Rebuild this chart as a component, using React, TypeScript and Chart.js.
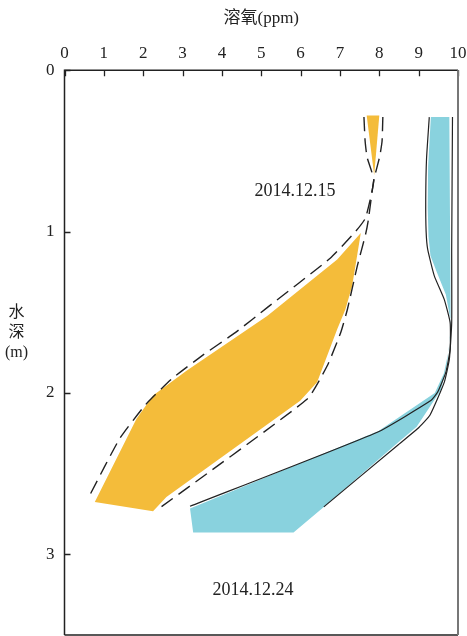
import React, { useEffect, useRef } from 'react';
import { Chart, registerables } from 'chart.js';

Chart.register(...registerables);

const FONT = "'Liberation Serif', 'Times New Roman', 'Noto Sans CJK SC', serif";
const INK = '#222';
const ORANGE = '#F4BC3A';
const BLUE = '#89D2DE';

// Axis ticks
const xTickValues = [0, 1, 2, 3, 4, 5, 6, 7, 8, 9, 10];
const yTickValues = [0, 1, 2, 3];

// Titles and labels
const xTitle = '溶氧(ppm)';
const yTitleLines = ['水', '深', '(m)'];
const dateLabels = ['2014.12.15', '2014.12.24'];
const dateLabelDO = [5.86, 4.79];
const dateLabelDepth = [0.75, 3.22];

// 2014.12.15 (orange) range — small top wedge
const orangeTopDO = [7.68, 8.0, 7.87];
const orangeTopDepth = [0.28, 0.28, 0.65];

// 2014.12.15 (orange) range — main body (closed outline)
const orangeDO = [7.53, 6.93, 5.15, 3.10, 2.25, 1.83, 0.77, 2.25, 2.59, 5.99, 6.42, 6.93, 7.14, 7.31, 7.53];
const orangeDepth = [1.008, 1.173, 1.523, 1.862, 2.016, 2.16, 2.675, 2.733, 2.644, 2.048, 1.934, 1.605, 1.481, 1.337, 1.008];

// 2014.12.15 dashed envelopes
const dashLeftDO = [7.61, 7.64, 7.69, 7.86, 7.65, 7.40, 6.76, 5.15, 4.34, 3.49, 2.72, 2.04, 1.40, 0.64];
const dashLeftDepth = [0.29, 0.44, 0.54, 0.68, 0.915, 0.998, 1.163, 1.471, 1.626, 1.77, 1.914, 2.078, 2.284, 2.634];
const dashRightDO = [8.09, 8.07, 8.01, 7.86, 7.72, 7.65, 7.44, 7.19, 7.02, 6.68, 6.17, 2.34];
const dashRightDepth = [0.29, 0.44, 0.535, 0.68, 0.93, 1.018, 1.214, 1.481, 1.625, 1.83, 2.037, 2.727];

// 2014.12.24 (blue) range (closed outline)
const blueDO = [9.31, 9.24, 9.23, 9.25, 9.30, 9.46, 9.69, 9.82, 9.77, 9.64, 9.41, 7.98, 3.19, 3.27, 5.82, 6.59, 8.44, 8.95, 9.57, 9.72, 9.81, 9.82, 9.80, 9.78];
const blueDepth = [0.29, 0.6, 0.85, 1.03, 1.15, 1.25, 1.39, 1.56, 1.73, 1.88, 2.0, 2.235, 2.716, 2.864, 2.864, 2.706, 2.315, 2.21, 1.98, 1.82, 1.63, 1.56, 1.42, 0.29];

// 2014.12.24 solid envelopes
const blueLeftDO = [9.27, 9.20, 9.18, 9.19, 9.23, 9.40, 9.65, 9.80, 9.80, 9.69, 9.48, 9.31, 7.95, 3.19];
const blueLeftDepth = [0.29, 0.55, 0.80, 1.0, 1.11, 1.276, 1.42, 1.564, 1.728, 1.872, 1.996, 2.047, 2.243, 2.702];
const blueRightDO = [9.86, 9.84, 9.84, 9.78, 9.65, 9.29, 8.97, 8.46, 6.59];
const blueRightDepth = [0.29, 1.11, 1.564, 1.79, 1.934, 2.136, 2.222, 2.325, 2.706];

function pts(xs: number[], ys: number[]) {
  return xs.map((x, i) => ({ x, y: ys[i] }));
}

function zeroPadding(scale: any) {
  scale.paddingLeft = 0;
  scale.paddingRight = 0;
  scale.paddingTop = 0;
  scale.paddingBottom = 0;
}

// Frame with inward tick marks, drawn through the chart's scales
const framePlugin = {
  id: 'frameTicks',
  afterDraw(chart: any) {
    const { ctx, chartArea } = chart;
    const { left, right, top, bottom } = chartArea;
    const x = chart.scales.x;
    const y = chart.scales.y;
    ctx.save();
    ctx.lineCap = 'butt';
    ctx.strokeStyle = INK;
    ctx.lineWidth = 1.3;
    ctx.beginPath();
    xTickValues.forEach((v) => {
      const px = Math.round(x.getPixelForValue(v)) + 0.5;
      ctx.moveTo(px, top);
      ctx.lineTo(px, top + 6);
    });
    yTickValues.forEach((v) => {
      const py = Math.round(y.getPixelForValue(v)) + 0.5;
      ctx.moveTo(left, py);
      ctx.lineTo(left + 6, py);
    });
    ctx.stroke();
    ctx.lineWidth = 1.5;
    ctx.beginPath();
    ctx.moveTo(left, bottom);
    ctx.lineTo(left, top);
    ctx.lineTo(right, top);
    ctx.moveTo(left, bottom);
    ctx.lineTo(right, bottom);
    ctx.stroke();
    ctx.strokeStyle = '#777';
    ctx.lineWidth = 2;
    ctx.beginPath();
    ctx.moveTo(right, top);
    ctx.lineTo(right, bottom);
    ctx.stroke();
    ctx.restore();
  },
};

const textPlugin = {
  id: 'extraTexts',
  afterDatasetsDraw(chart: any) {
    const { ctx, chartArea } = chart;
    const x = chart.scales.x;
    const y = chart.scales.y;
    ctx.save();
    ctx.fillStyle = INK;
    ctx.textAlign = 'center';
    ctx.textBaseline = 'middle';
    ctx.font = `18px ${FONT}`;
    dateLabels.forEach((t, i) => {
      ctx.fillText(t, x.getPixelForValue(dateLabelDO[i]), y.getPixelForValue(dateLabelDepth[i]));
    });
    ctx.font = `16px ${FONT}`;
    const mid = (chartArea.top + chartArea.bottom) / 2;
    const tx = chartArea.left - 48;
    yTitleLines.forEach((t, i) => {
      ctx.fillText(t, tx, mid - 40 + i * 20);
    });
    ctx.restore();
  },
};

export default function App() {
  const ref = useRef<HTMLCanvasElement | null>(null);

  useEffect(() => {
    if (!ref.current) return;
    const fillSet = (data: any[], color: string) => ({
      data,
      showLine: true,
      pointRadius: 0,
      borderWidth: 0,
      borderColor: 'rgba(0,0,0,0)',
      backgroundColor: color,
      fill: 'shape',
      tension: 0,
      order: 2,
    });
    const lineSet = (data: any[], dash: number[], width: number) => ({
      data,
      showLine: true,
      pointRadius: 0,
      borderWidth: width,
      borderColor: INK,
      borderDash: dash,
      backgroundColor: 'rgba(0,0,0,0)',
      fill: false,
      tension: 0.15,
      order: 1,
    });

    const chart = new Chart(ref.current, {
      type: 'scatter',
      data: {
        datasets: [
          fillSet(pts(orangeTopDO, orangeTopDepth), ORANGE),
          fillSet(pts(orangeDO, orangeDepth), ORANGE),
          fillSet(pts(blueDO, blueDepth), BLUE),
          lineSet(pts(dashLeftDO, dashLeftDepth), [14, 7], 1.4),
          lineSet(pts(dashRightDO, dashRightDepth), [14, 7], 1.4),
          lineSet(pts(blueLeftDO, blueLeftDepth), [], 1.2),
          lineSet(pts(blueRightDO, blueRightDepth), [], 1.2),
        ] as any,
      },
      options: {
        animation: false,
        responsive: false,
        devicePixelRatio: 1,
        layout: { autoPadding: false, padding: { top: 8, left: 36, right: 9, bottom: 1 } },
        plugins: {
          legend: { display: false },
          tooltip: { enabled: false },
        },
        scales: {
          x: {
            type: 'linear',
            position: 'top',
            min: 0,
            max: 10,
            afterBuildTicks: (s: any) => {
              s.ticks = xTickValues.map((v) => ({ value: v }));
            },
            afterFit: zeroPadding,
            ticks: { font: { family: FONT, size: 17 }, color: INK, padding: 7 },
            grid: { display: false, drawOnChartArea: false, drawTicks: false },
            border: { display: false },
            title: {
              display: true,
              text: xTitle,
              font: { family: FONT, size: 17 },
              color: INK,
              padding: { top: 0, bottom: 7.5 },
            },
          },
          y: {
            type: 'linear',
            position: 'left',
            reverse: true,
            min: 0,
            max: 3.5,
            afterBuildTicks: (s: any) => {
              s.ticks = yTickValues.map((v) => ({ value: v }));
            },
            afterFit: zeroPadding,
            ticks: { font: { family: FONT, size: 17 }, color: INK, padding: 10 },
            grid: { display: false, drawOnChartArea: false, drawTicks: false },
            border: { display: false },
          },
        },
      } as any,
      plugins: [textPlugin, framePlugin],
    });
    return () => chart.destroy();
  }, []);

  return (
    <div style={{ position: 'absolute', left: 0, top: 0, width: 467, height: 636, background: '#fff' }}>
      <canvas ref={ref} width={467} height={636} style={{ display: 'block' }} />
    </div>
  );
}
